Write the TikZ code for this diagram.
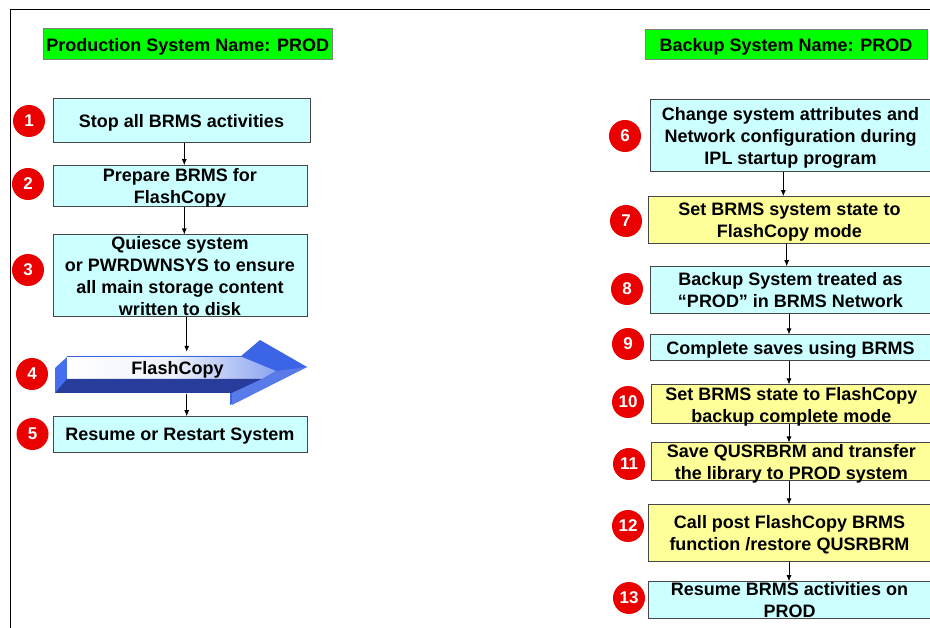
\documentclass[tikz,border=0pt]{standalone}
\usepackage{fontspec}
\setmainfont{Liberation Sans}
\usetikzlibrary{arrows.meta}
\definecolor{stepcyan}{RGB}{204,255,255}
\definecolor{stepyellow}{RGB}{255,255,153}
\definecolor{hdrgreen}{RGB}{0,255,0}
\definecolor{edgegray}{RGB}{70,70,70}
\definecolor{badgered}{RGB}{235,0,0}
\definecolor{arrowblue}{RGB}{60,100,230}
\definecolor{arrowlight}{RGB}{140,165,240}
\definecolor{arrowdark}{RGB}{40,60,155}
\definecolor{arrowcap}{RGB}{70,110,240}
\begin{document}
\begin{tikzpicture}[x=1pt,y=-1pt,
  txt/.style={font=\bfseries\fontsize{18}{22}\selectfont, align=center},
  stepbox/.style={txt, draw=edgegray, line width=1pt, inner sep=0pt, text depth=-5pt},
  cyanbox/.style={stepbox, fill=stepcyan},
  yellowbox/.style={stepbox, fill=stepyellow},
  header/.style={txt, draw=gray, line width=1pt, fill=hdrgreen, inner sep=0pt, text depth=0pt},
  badge/.style={circle, fill=badgered, minimum size=32pt, inner sep=0pt,
    text=white, font=\bfseries\fontsize{17}{17}\selectfont},
  flow/.style={-{Latex[length=6pt,width=5pt]}, line width=0.8pt}
]
\useasboundingbox (0,0) rectangle (930,628);
\clip (0,0) rectangle (930,628);

% outer frame (left and top rules)
\draw[line width=1pt] (10,628) -- (10,10) -- (935,10);

% ---------- production side ----------
\node[header, minimum width=289pt, minimum height=31pt] (hp) at (187.8,44.5) {Production System Name: PROD};

\node[cyanbox, minimum width=257pt, minimum height=44pt] (p1) at (181.5,121) {Stop all BRMS activities};
\node[cyanbox, minimum width=254pt, minimum height=41pt] (p2) at (180,186.2) {Prepare BRMS for\\FlashCopy};
\node[cyanbox, minimum width=254pt, minimum height=81.7pt] (p3) at (180,275.8) {Quiesce system\\or PWRDWNSYS to ensure\\all main storage content\\written to disk};
\node[minimum width=256pt, minimum height=42pt, inner sep=0pt] (flash) at (180,373) {};
\node[cyanbox, minimum width=254pt, minimum height=35.6pt] (p5) at (180,434.5) {Resume or Restart System};

% 3D FlashCopy arrow
\fill[arrowcap] (55,393) -- (55,368) -- (67,357) -- (67,380) -- cycle;
\fill[arrowblue] (230,380) -- (230,405) -- (307,367) -- (260,340) -- (240,357) -- cycle;
\shade[left color=white, right color=arrowlight, middle color=white!85!arrowlight]
  (67,357) -- (242,357) -- (276,371) -- (262,379) -- (67,379) -- cycle;
\fill[arrowdark] (55,393) -- (67,379) -- (262,379) -- (232,393) -- cycle;
\fill[arrowblue!85!white] (232,393) -- (262,379) -- (276,371) -- (307,367) -- (232,405) -- cycle;
\draw[arrowblue, line width=1pt] (67,357) -- (242,357);
\node[txt] (ftext) at (177.5,370) {FlashCopy};

\node[badge] (n1) at (29,121) {1};
\node[badge] (n2) at (28,184) {2};
\node[badge] (n3) at (28,270) {3};
\node[badge] (n4) at (32,374) {4};
\node[badge] (n5) at (32.5,434) {5};

\coordinate (lxa) at (184.3,0);
\coordinate (lxb) at (186.7,0);
\draw[flow] (p1.south -| lxa) -- (p2.north -| lxa);
\draw[flow] (p2.south -| lxa) -- (p3.north -| lxa);
\draw[flow] (p3.south -| lxb) -- (flash.north -| lxb);
\draw[flow] (flash.south -| lxb) -- (p5.north -| lxb);

% ---------- backup side ----------
\node[header, minimum width=282pt, minimum height=30pt] (hb) at (786,45) {Backup System Name: PROD};

\node[cyanbox, minimum width=281pt, minimum height=71.7pt] (b6) at (790.5,135.8) {Change system attributes and\\Network configuration during\\IPL startup program};
\node[yellowbox, minimum width=283pt, minimum height=46.6pt] (b7) at (789.5,220) {Set BRMS system state to\\FlashCopy mode};
\node[cyanbox, minimum width=281pt, minimum height=46.6pt] (b8) at (790.5,290) {Backup System treated as\\“PROD” in BRMS Network};
\node[cyanbox, minimum width=281pt, minimum height=25.7pt] (b9) at (790.5,347.8) {Complete saves using BRMS};
\node[yellowbox, minimum width=279.3pt, minimum height=39pt] (b10) at (791.3,404.5) {Set BRMS state to FlashCopy\\backup complete mode};
\node[yellowbox, minimum width=279.3pt, minimum height=38pt] (b11) at (791.3,462) {Save QUSRBRM and transfer\\the library to PROD system};
\node[yellowbox, minimum width=283pt, minimum height=56.7pt] (b12) at (789.5,533.3) {Call post FlashCopy BRMS\\function /restore QUSRBRM};
\node[cyanbox, minimum width=283pt, minimum height=36.6pt] (b13) at (789.5,600) {Resume BRMS activities on\\PROD};

\node[badge] (n6) at (625,136) {6};
\node[badge] (n7) at (626,221) {7};
\node[badge] (n8) at (627,289) {8};
\node[badge] (n9) at (628,344) {9};
\node[badge] (n10) at (628,402) {10};
\node[badge] (n11) at (629,464) {11};
\node[badge] (n12) at (628,526) {12};
\node[badge] (n13) at (629,598) {13};

\coordinate (rxa) at (783.3,0);
\coordinate (rxb) at (786.7,0);
\coordinate (rxc) at (789,0);
\draw[flow] (b6.south -| rxa) -- (b7.north -| rxa);
\draw[flow] (b7.south -| rxb) -- (b8.north -| rxb);
\draw[flow] (b8.south -| rxc) -- (b9.north -| rxc);
\draw[flow] (b9.south -| rxc) -- (b10.north -| rxc);
\draw[flow] (b10.south -| rxc) -- (b11.north -| rxc);
\draw[flow] (b11.south -| rxc) -- (b12.north -| rxc);
\draw[flow] (b12.south -| rxc) -- (b13.north -| rxc);
\end{tikzpicture}
\end{document}
